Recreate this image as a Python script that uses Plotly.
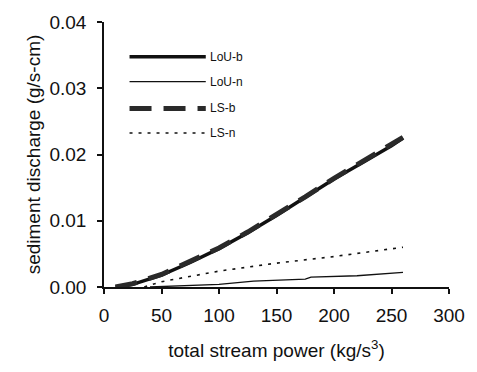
import plotly.graph_objects as go

# Data
lou_b_x = [10, 25, 50, 75, 100, 125, 150, 175, 200, 225, 250, 260]
lou_b_y = [0.0, 0.0004, 0.0018, 0.0037, 0.0058, 0.0082, 0.0108, 0.0135, 0.0163, 0.0188, 0.0213, 0.0225]
lou_n_x = [40, 75, 100, 130, 175, 180, 220, 260]
lou_n_y = [0.0, 0.0002, 0.0004, 0.0009, 0.0012, 0.0015, 0.0017, 0.0022]
ls_b_x = [10, 25, 50, 75, 100, 125, 150, 175, 200, 225, 250, 260]
ls_b_y = [0.0, 0.0005, 0.0019, 0.0038, 0.0059, 0.0083, 0.0109, 0.0136, 0.0164, 0.0189, 0.0214, 0.0226]
ls_n_x = [35, 50, 100, 150, 200, 260]
ls_n_y = [0.0, 0.0008, 0.0024, 0.0036, 0.0046, 0.0060]

series_names = ["LoU-b", "LoU-n", "LS-b", "LS-n"]
x_ticks = [0, 50, 100, 150, 200, 250, 300]
y_ticks = [0.0, 0.01, 0.02, 0.03, 0.04]

ink = "#111111"
styles = [
    dict(color=ink, width=3.5, dash="solid"),
    dict(color=ink, width=1.3, dash="solid"),
    dict(color="#2a2a2a", width=5, dash="22px,12px"),
    dict(color=ink, width=1.6, dash="3px,6px"),
]

fig = go.Figure()
data = [(lou_b_x, lou_b_y), (lou_n_x, lou_n_y), (ls_b_x, ls_b_y), (ls_n_x, ls_n_y)]
for (xs, ys), name, st in zip(data, series_names, styles):
    fig.add_trace(go.Scatter(x=xs, y=ys, mode="lines", name=name, line=st, showlegend=False))

# Custom legend with long line samples
rows_y = [0.869, 0.775, 0.674, 0.581]
for name, st, yy in zip(series_names, styles, rows_y):
    fig.add_shape(type="line", xref="paper", yref="paper", x0=0.074, x1=0.295, y0=yy, y1=yy,
                  line=st)
    fig.add_annotation(xref="paper", yref="paper", x=0.302, y=yy, text=name, showarrow=False,
                       xanchor="left", yanchor="middle",
                       font=dict(family="Liberation Sans Narrow, Liberation Sans, Arial", size=12, color=ink))

fig.update_layout(
    width=477, height=372,
    margin=dict(l=104, r=20, t=20, b=85),
    paper_bgcolor="white", plot_bgcolor="white",
    font=dict(family="Liberation Sans, Arial, sans-serif", color=ink),
)
fig.update_xaxes(range=[0, 300], tickvals=x_ticks, ticktext=[str(v) for v in x_ticks],
                 showgrid=False, zeroline=False, showline=True, linecolor=ink, linewidth=1.5,
                 ticks="outside", ticklen=5, tickcolor=ink, tickwidth=1.5,
                 tickfont=dict(size=19, color=ink), ticklabelstandoff=5,
                 title=dict(text="total stream power (kg/s<sup>3</sup>)", font=dict(size=19, color=ink), standoff=19))
fig.update_yaxes(range=[0, 0.04], tickvals=y_ticks, ticktext=[f"{v:.2f}" for v in y_ticks],
                 showgrid=False, zeroline=False, showline=True, linecolor=ink, linewidth=1.5,
                 ticks="outside", ticklen=5, tickcolor=ink, tickwidth=1.5,
                 tickfont=dict(size=19, color=ink), ticklabelstandoff=7,
                 title=dict(text="sediment discharge (g/s-cm)", font=dict(size=19, color=ink), standoff=4))

fig.write_html("out.html")
